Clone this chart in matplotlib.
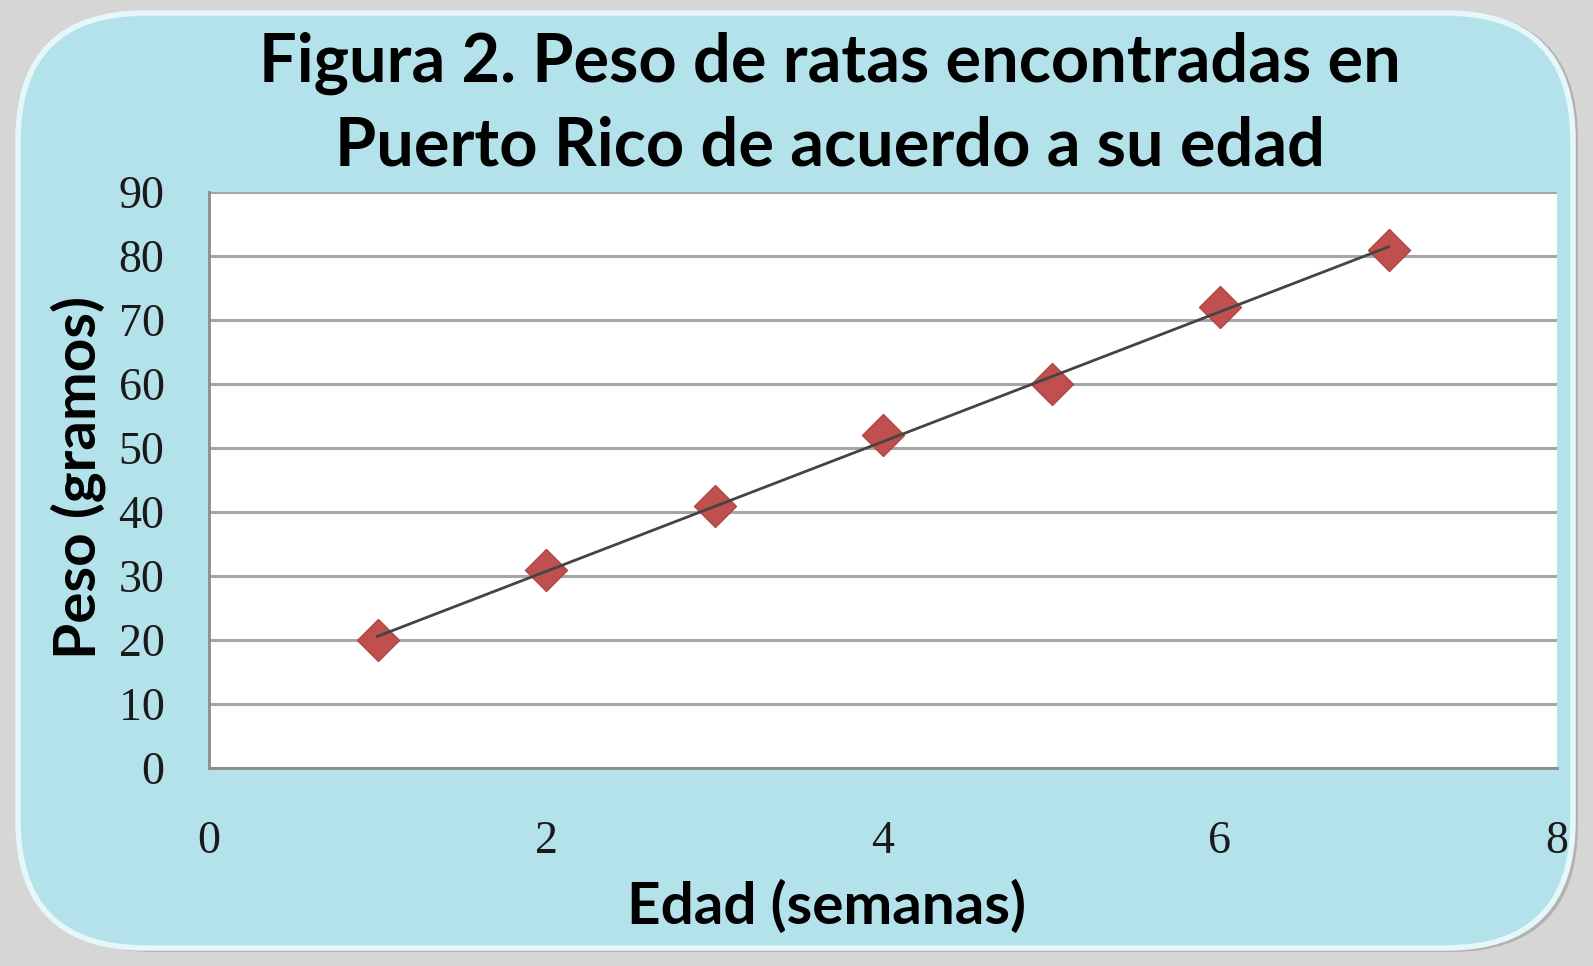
import numpy as np
import matplotlib.pyplot as plt
from matplotlib.patches import FancyBboxPatch

# ---------------- data ----------------
edad = [1, 2, 3, 4, 5, 6, 7]
peso = [20, 31, 41, 52, 60, 72, 81]
xticks = [0, 2, 4, 6, 8]
yticks = [0, 10, 20, 30, 40, 50, 60, 70, 80, 90]

W, H = 1593, 966
fig = plt.figure(figsize=(W / 100, H / 100), dpi=100)
fig.patch.set_facecolor('#d6d6d6')

# ---------------- rounded blue card ----------------
shadow = FancyBboxPatch((26 / W, 14 / H), 1552 / W, 940 / H,
                        boxstyle="round,pad=0,rounding_size=0.08",
                        transform=fig.transFigure, facecolor='#9a9a9a',
                        edgecolor='none', alpha=0.6, mutation_aspect=W / H,
                        zorder=-20)
card = FancyBboxPatch((18 / W, 18 / H), 1555 / W, 935 / H,
                      boxstyle="round,pad=0,rounding_size=0.08",
                      transform=fig.transFigure, facecolor='#b3e2eb',
                      edgecolor='#e6f7fa', linewidth=4, mutation_aspect=W / H,
                      zorder=-10)
fig.patches.extend([shadow, card])

# ---------------- axes ----------------
ax = fig.add_axes([209 / W, 1 - 768 / H, 1348 / W, 576 / H])
ax.set_facecolor('white')

ax.plot(edad, peso, linestyle='none', marker='D', markersize=21,
        color='#c0504d', markeredgecolor='#b14643', zorder=3)

# linear trend line
m, b = np.polyfit(edad, peso, 1)
xt = np.array([edad[0], edad[-1]])
ax.plot(xt, m * xt + b, color='#444444', linewidth=2, zorder=4)

ax.set_xlim(0, 8)
ax.set_ylim(0, 90)
ax.set_xticks(xticks)
ax.set_yticks(yticks)
ax.grid(axis='y', color='#a6a6a6', linewidth=2.2)
ax.set_axisbelow(True)
for s in ['top', 'right']:
    ax.spines[s].set_visible(False)
for s in ['left', 'bottom']:
    ax.spines[s].set_color('#8c8c8c')
    ax.spines[s].set_linewidth(2)
ax.tick_params(length=0, labelsize=33, colors='#1a1a1a')
ax.tick_params(axis='x', pad=38)
ax.tick_params(axis='y', pad=32)
for lbl in ax.get_xticklabels() + ax.get_yticklabels():
    lbl.set_family('Liberation Serif')

ax.set_xlabel('Edad (semanas)', fontsize=42, fontweight='bold', family='Lato', va='center')
ax.set_ylabel('Peso (gramos)', fontsize=42, fontweight='bold', family='Lato', va='center')
ax.xaxis.set_label_coords(0.458, -0.241)
ax.yaxis.set_label_coords(-0.097, 0.505)

fig.text(830 / W, 1 - 63 / H, 'Figura 2. Peso de ratas encontradas en',
         ha='center', va='center', fontsize=48, fontweight='bold', family='Lato')
fig.text(830 / W, 1 - 147 / H, 'Puerto Rico de acuerdo a su edad',
         ha='center', va='center', fontsize=48, fontweight='bold', family='Lato')

fig.savefig('out.png', dpi=100, facecolor=fig.get_facecolor())
